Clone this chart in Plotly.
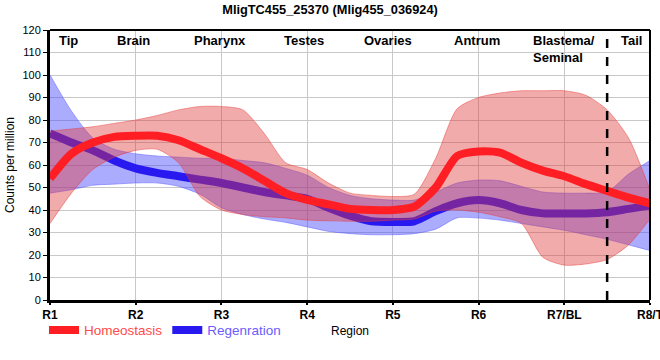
import plotly.graph_objects as go

# ---------------- data ----------------
positions = [0, 0.25, 0.5, 0.75, 1, 1.25, 1.5, 1.75, 2, 2.25, 2.5, 2.75, 3, 3.25, 3.5,
             3.75, 4, 4.25, 4.5, 4.75, 5, 5.25, 5.5, 5.75, 6, 6.25, 6.5, 6.75, 7]

homeo_mean = [54, 65, 70, 72.5, 73, 73, 71, 67, 63, 58.5, 53, 47.5, 44.5, 42.5, 40.5,
              40, 40, 41.5, 50, 64, 66, 65.5, 61, 57.5, 55, 51.5, 48.5, 45.5, 43]
homeo_upper = [75, 76, 77, 78.5, 80, 82, 84.5, 86, 86, 84.5, 74, 61, 58, 52, 47.5,
               46.5, 46, 47, 63, 85, 90, 92, 93, 93, 93, 91, 84.5, 72, 49]
homeo_lower = [34, 47.5, 58, 63.5, 66.5, 67, 61, 46, 40, 38, 37, 36.5, 35.5, 35.2, 35,
               35, 35.5, 36, 39.5, 40, 39, 37, 34, 19, 15.5, 16, 18, 24.5, 36]

regen_mean = [74, 70, 66.5, 62, 58.5, 56.5, 55, 53.5, 52, 50, 48, 46.5, 45, 41, 37.5,
              35, 34.7, 35, 39.5, 43, 44.4, 43, 40, 38.5, 38.5, 38.5, 39, 40.5, 42]
regen_upper = [100, 84, 72, 67, 65, 64, 63.5, 63, 63, 62, 61, 58.5, 55.5, 50, 46.5,
               45, 44.4, 44.4, 48, 52, 53.3, 53, 50.5, 48, 47.5, 47.5, 48, 56, 62]
regen_lower = [47.5, 49, 51, 51.5, 52, 52, 50.5, 47, 41, 38, 36, 34.5, 32.5, 30.5, 29.5,
               29, 29, 29.5, 31.5, 36.5, 36.4, 35.5, 34, 32.5, 31, 29, 27, 24.5, 22]

tick_positions = [0, 1, 2, 3, 4, 5, 6, 7]
tick_labels = ["R1", "R2", "R3", "R4", "R5", "R6", "R7/BL", "R8/T"]

region_names = ["Tip", "Brain", "Pharynx", "Testes", "Ovaries", "Antrum",
                "Blastema/<br>Seminal", "Tail"]
region_label_pos = [0.21, 0.97, 1.98, 2.96, 3.94, 4.98, 6.0, 6.78]
tail_boundary = 6.5

FONT = "Arial, Liberation Sans, sans-serif"
SPL = dict(shape="spline", smoothing=0.7)

fig = go.Figure()

# Regeneration band + line
fig.add_trace(go.Scatter(x=positions, y=regen_upper, mode="lines",
                         line=dict(width=0.8, color="rgba(90,90,255,0.6)", **SPL),
                         showlegend=False, hoverinfo="skip"))
fig.add_trace(go.Scatter(x=positions, y=regen_lower, mode="lines", fill="tonexty",
                         fillcolor="rgba(70,70,255,0.45)",
                         line=dict(width=0.8, color="rgba(90,90,255,0.6)", **SPL),
                         showlegend=False, hoverinfo="skip"))
fig.add_trace(go.Scatter(x=positions, y=regen_mean, mode="lines",
                         name='<span style="color:#6a5cff">Regenration</span>',
                         line=dict(width=8, color="rgb(40,25,240)", **SPL)))

# Homeostasis band + line
fig.add_trace(go.Scatter(x=positions, y=homeo_upper, mode="lines",
                         line=dict(width=0.8, color="rgba(230,60,60,0.6)", **SPL),
                         showlegend=False, hoverinfo="skip"))
fig.add_trace(go.Scatter(x=positions, y=homeo_lower, mode="lines", fill="tonexty",
                         fillcolor="rgba(225,55,55,0.42)",
                         line=dict(width=0.8, color="rgba(230,60,60,0.6)", **SPL),
                         showlegend=False, hoverinfo="skip"))
fig.add_trace(go.Scatter(x=positions, y=homeo_mean, mode="lines",
                         name='<span style="color:#ff4a4a">Homeostasis</span>',
                         line=dict(width=8, color="rgb(255,30,35)", **SPL)))

annotations = []
for name, pos in zip(region_names, region_label_pos):
    annotations.append(dict(x=pos, y=119.5, xref="x", yref="y", text=name, showarrow=False,
                            xanchor="center", yanchor="top", align="left",
                            font=dict(family=FONT, size=13, color="black", weight="bold")))
annotations.append(dict(x=0.5, y=-0.115, xref="paper", yref="paper", text="Region",
                        showarrow=False, xanchor="center", yanchor="middle",
                        font=dict(family=FONT, size=12, color="black")))

fig.update_layout(
    width=660, height=360,
    margin=dict(l=50, r=10, t=30, b=60, autoexpand=False),
    paper_bgcolor="white", plot_bgcolor="white",
    title=dict(text="<b>MligTC455_25370 (Mlig455_036924)</b>", x=0.5, xanchor="center",
               y=0.987, yanchor="top", font=dict(family=FONT, size=12.8, color="black")),
    font=dict(family=FONT, size=11, color="black"),
    showlegend=True,
    legend=dict(orientation="h", x=-0.01, xanchor="left", y=-0.112, yanchor="middle",
                font=dict(family=FONT, size=13.5), bgcolor="rgba(0,0,0,0)",
                traceorder="reversed", itemwidth=30, tracegroupgap=0),
    annotations=annotations,
    shapes=[
        dict(type="line", x0=tail_boundary, x1=tail_boundary, y0=0, y1=1, xref="x", yref="paper",
             line=dict(color="black", width=2.5, dash="dash")),
        dict(type="line", x0=0, x1=1, y0=1, y1=1, xref="paper", yref="paper",
             line=dict(color="black", width=2)),
        dict(type="line", x0=1, x1=1, y0=0, y1=1, xref="paper", yref="paper",
             line=dict(color="black", width=2)),
    ],
)

fig.update_xaxes(range=[0, 7], tickvals=tick_positions, ticktext=tick_labels,
                 showgrid=True, gridcolor="rgb(200,200,200)", gridwidth=1,
                 showline=True, linecolor="black", linewidth=3,
                 ticks="outside", ticklen=2, tickcolor="black", tickwidth=1.5,
                 tickfont=dict(family=FONT, size=12, color="black", weight="bold"),
                 ticklabeloverflow="allow",
                 zeroline=False, automargin=False)
fig.update_yaxes(range=[0, 120], tickvals=list(range(0, 121, 10)),
                 showgrid=True, gridcolor="rgb(200,200,200)", gridwidth=1,
                 showline=True, linecolor="black", linewidth=3,
                 ticks="outside", ticklen=4, tickcolor="black", tickwidth=1,
                 tickfont=dict(family=FONT, size=11, color="black"),
                 title=dict(text="Counts per million", font=dict(family=FONT, size=12, color="black"),
                            standoff=6),
                 zeroline=False, automargin=False)

fig.write_html("out.html", config={"displayModeBar": False},
               post_script="document.body.style.margin='0';")
